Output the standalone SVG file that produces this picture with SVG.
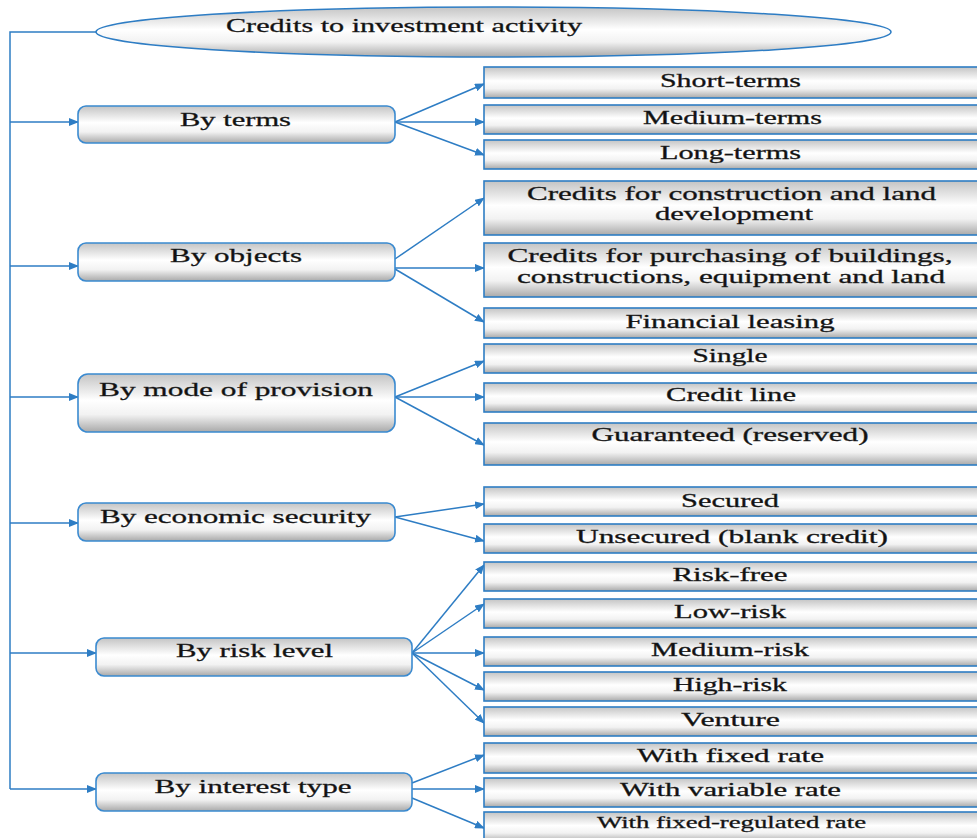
<svg xmlns="http://www.w3.org/2000/svg" width="977" height="838" viewBox="0 0 977 838">
<style>
.box{fill:url(#g);stroke:#2E7DC4;stroke-width:1.6}
.cat{fill:url(#g);stroke:#3A8AD0;stroke-width:1.6}
.t{font-family:"Liberation Serif","Times New Roman",serif;font-size:18px;fill:#111;stroke:#222;stroke-width:0.3;text-anchor:middle}
.tc{font-size:19px}
.ln{fill:none;stroke:#2E7DC4;stroke-width:1.5}
.ar{fill:none;stroke:#2E7DC4;stroke-width:1.5;marker-end:url(#ah)}
</style>
<defs>
<linearGradient id="g" x1="0" y1="0" x2="0" y2="1">
<stop offset="0" stop-color="#c4c4c4"/>
<stop offset="0.45" stop-color="#ffffff"/>
<stop offset="0.7" stop-color="#f2f2f2"/>
<stop offset="1" stop-color="#a9a9a9"/>
</linearGradient>
<marker id="ah" markerUnits="userSpaceOnUse" markerWidth="10" markerHeight="8" refX="9" refY="4" orient="auto">
<path d="M0,0 L10,4 L0,8 Z" fill="#2E7DC4"/>
</marker>
</defs>

<g id="connectors">
<path class="ln" d="M96,32 H10 V789"/>
<path class="ar" d="M10,122 H78"/>
<path class="ar" d="M10,266 H78"/>
<path class="ar" d="M10,397 H78"/>
<path class="ar" d="M10,523 H78"/>
<path class="ar" d="M10,653 H96"/>
<path class="ar" d="M10,789 H96"/>

<path class="ar" d="M395,122 L484,84"/>
<path class="ar" d="M395,122 L484,122"/>
<path class="ar" d="M395,122 L484,155"/>

<path class="ar" d="M395,259 L484,198"/>
<path class="ar" d="M395,268 L484,268"/>
<path class="ar" d="M395,269 L484,322"/>

<path class="ar" d="M395,397 L484,361"/>
<path class="ar" d="M395,397 L484,397"/>
<path class="ar" d="M395,397 L484,445"/>

<path class="ar" d="M395,517 L484,504"/>
<path class="ar" d="M395,517 L484,541"/>

<path class="ar" d="M412,653 L484,565"/>
<path class="ar" d="M412,653 L484,604"/>
<path class="ar" d="M412,653 L484,653"/>
<path class="ar" d="M412,653 L484,690"/>
<path class="ar" d="M412,653 L484,723"/>

<path class="ar" d="M412,783 L484,755"/>
<path class="ar" d="M412,789 L484,789"/>
<path class="ar" d="M412,798 L484,828"/>
</g>

<g id="root">
<ellipse class="box" cx="493.5" cy="32" rx="397.5" ry="25"/>
<text class="t tc" x="404" y="32" textLength="356" lengthAdjust="spacingAndGlyphs">Credits to investment activity</text>
</g>

<g id="by-terms">
<rect class="cat" x="78" y="106" width="317" height="37" rx="8"/>
<text class="t tc" x="235.5" y="126" textLength="111" lengthAdjust="spacingAndGlyphs">By terms</text>
</g>
<g id="by-objects">
<rect class="cat" x="78" y="243" width="317" height="38" rx="8"/>
<text class="t tc" x="236" y="262" textLength="132" lengthAdjust="spacingAndGlyphs">By objects</text>
</g>
<g id="by-mode">
<rect class="cat" x="78" y="374" width="317" height="58" rx="10"/>
<text class="t tc" x="236" y="396" textLength="274" lengthAdjust="spacingAndGlyphs">By mode of provision</text>
</g>
<g id="by-security">
<rect class="cat" x="78" y="503" width="317" height="38" rx="8"/>
<text class="t tc" x="235.5" y="523" textLength="271" lengthAdjust="spacingAndGlyphs">By economic security</text>
</g>
<g id="by-risk">
<rect class="cat" x="96" y="638" width="316" height="38" rx="8"/>
<text class="t tc" x="254.5" y="657" textLength="157" lengthAdjust="spacingAndGlyphs">By risk level</text>
</g>
<g id="by-interest">
<rect class="cat" x="96" y="773" width="316" height="38" rx="8"/>
<text class="t tc" x="253" y="793" textLength="197" lengthAdjust="spacingAndGlyphs">By interest type</text>
</g>

<g id="short-terms"><rect class="box" x="484" y="67" width="500" height="31"/><text class="t" x="730.5" y="87" textLength="141" lengthAdjust="spacingAndGlyphs">Short-terms</text></g>
<g id="medium-terms"><rect class="box" x="484" y="105" width="500" height="29"/><text class="t" x="732.5" y="124" textLength="179" lengthAdjust="spacingAndGlyphs">Medium-terms</text></g>
<g id="long-terms"><rect class="box" x="484" y="140" width="500" height="29"/><text class="t" x="730.5" y="159" textLength="141" lengthAdjust="spacingAndGlyphs">Long-terms</text></g>
<g id="construction"><rect class="box" x="484" y="181" width="500" height="54"/><text class="t" x="731.5" y="200" textLength="409" lengthAdjust="spacingAndGlyphs">Credits for construction and land</text><text class="t" x="734" y="220" textLength="158" lengthAdjust="spacingAndGlyphs">development</text></g>
<g id="purchasing"><rect class="box" x="484" y="243" width="500" height="54"/><text class="t" x="730" y="262" textLength="445" lengthAdjust="spacingAndGlyphs">Credits for purchasing of buildings,</text><text class="t" x="731" y="283" textLength="428" lengthAdjust="spacingAndGlyphs">constructions, equipment and land</text></g>
<g id="leasing"><rect class="box" x="484" y="308" width="500" height="30"/><text class="t" x="730" y="328" textLength="209" lengthAdjust="spacingAndGlyphs">Financial leasing</text></g>
<g id="single"><rect class="box" x="484" y="344" width="500" height="29"/><text class="t" x="730" y="362" textLength="75" lengthAdjust="spacingAndGlyphs">Single</text></g>
<g id="credit-line"><rect class="box" x="484" y="383" width="500" height="29"/><text class="t" x="731" y="401" textLength="130" lengthAdjust="spacingAndGlyphs">Credit line</text></g>
<g id="guaranteed"><rect class="box" x="484" y="423" width="500" height="42"/><text class="t" x="730" y="441" textLength="277" lengthAdjust="spacingAndGlyphs">Guaranteed (reserved)</text></g>
<g id="secured"><rect class="box" x="484" y="487" width="500" height="29"/><text class="t" x="730" y="507" textLength="98" lengthAdjust="spacingAndGlyphs">Secured</text></g>
<g id="unsecured"><rect class="box" x="484" y="524" width="500" height="29"/><text class="t" x="732" y="543" textLength="312" lengthAdjust="spacingAndGlyphs">Unsecured (blank credit)</text></g>
<g id="risk-free"><rect class="box" x="484" y="562" width="500" height="29"/><text class="t" x="730" y="581" textLength="115" lengthAdjust="spacingAndGlyphs">Risk-free</text></g>
<g id="low-risk"><rect class="box" x="484" y="599" width="500" height="29"/><text class="t" x="730" y="618" textLength="112" lengthAdjust="spacingAndGlyphs">Low-risk</text></g>
<g id="medium-risk"><rect class="box" x="484" y="637" width="500" height="29"/><text class="t" x="730" y="656" textLength="158" lengthAdjust="spacingAndGlyphs">Medium-risk</text></g>
<g id="high-risk"><rect class="box" x="484" y="672" width="500" height="29"/><text class="t" x="730" y="691" textLength="114" lengthAdjust="spacingAndGlyphs">High-risk</text></g>
<g id="venture"><rect class="box" x="484" y="707" width="500" height="29"/><text class="t" x="730.5" y="726" textLength="99" lengthAdjust="spacingAndGlyphs">Venture</text></g>
<g id="fixed-rate"><rect class="box" x="484" y="743" width="500" height="30"/><text class="t" x="730.5" y="762" textLength="187" lengthAdjust="spacingAndGlyphs">With fixed rate</text></g>
<g id="variable-rate"><rect class="box" x="484" y="778" width="500" height="29"/><text class="t" x="730.5" y="796" textLength="221" lengthAdjust="spacingAndGlyphs">With variable rate</text></g>
<g id="fixed-regulated-rate"><rect class="box" x="484" y="812" width="500" height="30"/><text class="t" x="731.5" y="828" style="font-size:16px" textLength="269" lengthAdjust="spacingAndGlyphs">With fixed-regulated rate</text></g>
</svg>
